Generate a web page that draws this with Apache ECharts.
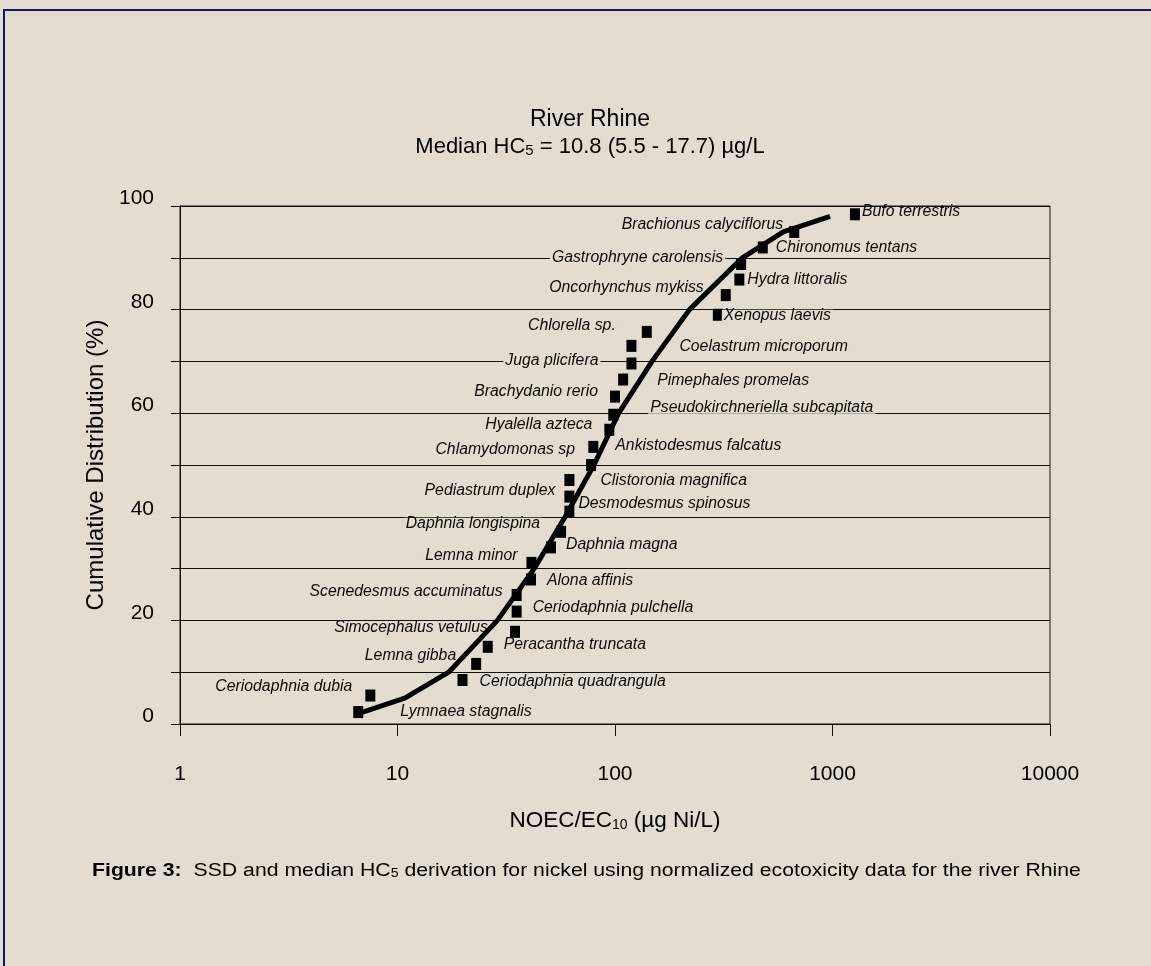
<!DOCTYPE html>
<html>
<head>
<meta charset="utf-8">
<script src="https://cdn.jsdelivr.net/npm/echarts@6/dist/echarts.min.js"></script>
<style>
  html, body { margin: 0; padding: 0; background: #e4dcd0; }
  #main { width: 1151px; height: 966px; }
</style>
</head>
<body>
<div id="main"></div>
<script>
// species, ranked from most to least sensitive
var species = ['Lymnaea stagnalis', 'Ceriodaphnia dubia', 'Ceriodaphnia quadrangula', 'Lemna gibba',
  'Peracantha truncata', 'Simocephalus vetulus', 'Ceriodaphnia pulchella', 'Scenedesmus accuminatus',
  'Alona affinis', 'Lemna minor', 'Daphnia magna', 'Daphnia longispina', 'Desmodesmus spinosus',
  'Pediastrum duplex', 'Clistoronia magnifica', 'Chlamydomonas sp', 'Ankistodesmus falcatus',
  'Hyalella azteca', 'Pseudokirchneriella subcapitata', 'Brachydanio rerio', 'Pimephales promelas',
  'Juga plicifera', 'Coelastrum microporum', 'Chlorella sp.', 'Xenopus laevis', 'Oncorhynchus mykiss',
  'Hydra littoralis', 'Gastrophryne carolensis', 'Chironomus tentans', 'Brachionus calyciflorus',
  'Bufo terrestris'];

// NOEC/EC10 (µg Ni/L) and cumulative %
var noec = [6.6, 7.5, 19.9, 23.0, 26.0, 34.7, 35.3, 35.3, 41.1, 41.3, 50.8, 56.5, 61.7, 61.7, 61.7,
  77.6, 79.5, 94.2, 98.2, 100, 109, 119, 119, 140, 297, 323, 373, 380, 478, 667, 1268];
var cumPct = [2.3, 5.5, 8.5, 11.6, 14.9, 17.8, 21.7, 24.9, 27.9, 31.1, 34.1, 37.1, 41.0, 43.9, 47.1,
  50.0, 53.5, 56.8, 59.7, 63.2, 66.5, 69.6, 73.0, 75.7, 79.0, 82.8, 85.8, 88.8, 92.0, 95.0, 98.4];

// fitted SSD curve
var fitX = [6.6, 10.8, 17.2, 28.8, 42.5, 59, 80, 104, 148, 220, 385, 594, 975];
var fitY = [2, 5, 10, 20, 30, 40, 50, 60, 70, 80, 90, 95, 98];

var yLabels = [0, 20, 40, 60, 80, 100];

// where each species name sits: side, dx, dy
var labelPlace = [
  ['right', 37, 0], ['left', -13, -9], ['right', 12, 2], ['left', -15, -8], ['right', 11, -2],
  ['left', -22, -4], ['right', 11, -4], ['left', -9, -3], ['right', 11, 1], ['left', -9, -7],
  ['right', 10, -3], ['left', -16, -8], ['right', 4, -8], ['left', -9, -6], ['right', 26, 1],
  ['left', -11, -15], ['right', 17, -1], ['left', -12, -5], ['right', 32, -7], ['left', -12, -5],
  ['right', 29, 1], ['left', -28, -3], ['right', 43, 1], ['left', -26, -6], ['right', 1, 1],
  ['left', -17, -7], ['right', 3, 0], ['left', -13, -6], ['right', 8, 0], ['left', -6, -7],
  ['right', 2, -3]
];

var bg = '#e4dcd0';
var font = 'Liberation Sans, Arial, sans-serif';

var points = noec.map(function (x, i) {
  var lab = { position: labelPlace[i][0] };
  // top label must not hide the plot border
  if (i === noec.length - 1) lab.backgroundColor = 'transparent';
  return { value: [x, cumPct[i]], label: lab };
});

var curve = fitX.map(function (x, i) { return [x, fitY[i]]; });

var chart = echarts.init(document.getElementById('main'));

var option = {
  backgroundColor: bg,
  animation: false,
  title: [{
    text: 'River Rhine',
    left: 585, top: 103, textAlign: 'center',
    textStyle: { fontFamily: font, fontSize: 23, fontWeight: 'normal', color: '#000' }
  }, {
    text: 'Median HC{s|5} = 10.8 (5.5 - 17.7) µg/L',
    left: 585, top: 131, textAlign: 'center',
    textStyle: {
      fontFamily: font, fontSize: 22, fontWeight: 'normal', color: '#000',
      rich: { s: { fontFamily: font, fontSize: 15, color: '#000', verticalAlign: 'bottom', lineHeight: 22 } }
    }
  }],
  graphic: [{
    type: 'rect',
    shape: { x: 4, y: 10, width: 1400, height: 1200 },
    style: { fill: 'none', stroke: '#16166a', lineWidth: 2 },
    silent: true
  }, {
    // caption under the chart
    type: 'text',
    x: 92, y: 871,
    scaleX: 1.18,
    silent: true,
    style: {
      text: '{b|Figure 3:}  SSD and median HC{s|5} derivation for nickel using normalized ecotoxicity data for the river Rhine',
      fill: '#000',
      font: '18px ' + font,
      verticalAlign: 'middle',
      rich: {
        b: { fontFamily: font, fontSize: 18, fontWeight: 'bold', fill: '#000' },
        s: { fontFamily: font, fontSize: 12, fill: '#000', verticalAlign: 'bottom', lineHeight: 18 }
      }
    }
  }],
  grid: {
    left: 180, top: 206, width: 870, height: 518,
    show: true, borderColor: '#111', borderWidth: 1, backgroundColor: 'transparent'
  },
  xAxis: {
    type: 'log',
    logBase: 10,
    min: 1,
    max: 10000,
    name: 'NOEC/EC{s|10} (µg Ni/L)',
    nameLocation: 'middle',
    nameGap: 85,
    nameTextStyle: {
      fontFamily: font, fontSize: 22.5, color: '#000',
      rich: { s: { fontFamily: font, fontSize: 14, color: '#000', verticalAlign: 'bottom', lineHeight: 22 } }
    },
    axisLine: { lineStyle: { color: '#111', width: 1 } },
    axisTick: { show: true, inside: false, length: 12, lineStyle: { color: '#111' } },
    minorTick: { show: false },
    splitLine: { show: false },
    axisLabel: {
      margin: 40,
      fontFamily: font, fontSize: 21, color: '#000',
      formatter: function (v) { return String(Math.round(v)); }
    }
  },
  yAxis: {
    type: 'value',
    min: 0,
    max: 100,
    interval: 10,
    name: 'Cumulative Distribution (%)',
    nameLocation: 'middle',
    nameGap: 72,
    nameTextStyle: { fontFamily: font, fontSize: 24, color: '#000' },
    axisLine: { show: true, lineStyle: { color: '#111', width: 1 } },
    axisTick: { show: true, inside: false, length: 9, lineStyle: { color: '#111' } },
    splitLine: { show: true, lineStyle: { color: '#111', width: 1 } },
    axisLabel: {
      margin: 26,
      verticalAlign: 'bottom',
      lineHeight: 15,
      fontFamily: font, fontSize: 21, color: '#000',
      formatter: function (v) { return yLabels.indexOf(v) >= 0 ? String(v) : ''; }
    }
  },
  series: [{
    name: 'species',
    type: 'scatter',
    z: 2,
    symbol: 'rect',
    symbolSize: [10, 12],
    itemStyle: { color: '#000', opacity: 1 },
    label: {
      show: true,
      distance: 0,
      formatter: function (p) { return species[p.dataIndex]; },
      fontFamily: font, fontSize: 15.8, fontStyle: 'italic', color: '#0a0a0a',
      backgroundColor: bg,
      lineHeight: 12,
      padding: [0, 2]
    },
    labelLayout: function (params) {
      var p = labelPlace[params.dataIndex];
      return {
        dx: p[0] === 'right' ? p[1] - 2 : p[1] + 2,
        dy: p[2],
        hideOverlap: false
      };
    },
    emphasis: { disabled: true },
    data: points
  }, {
    name: 'SSD',
    type: 'line',
    z: 3,
    symbol: 'none',
    lineStyle: { color: '#000', width: 5 },
    emphasis: { disabled: true },
    data: curve
  }]
};

chart.setOption(option);
</script>
</body>
</html>
